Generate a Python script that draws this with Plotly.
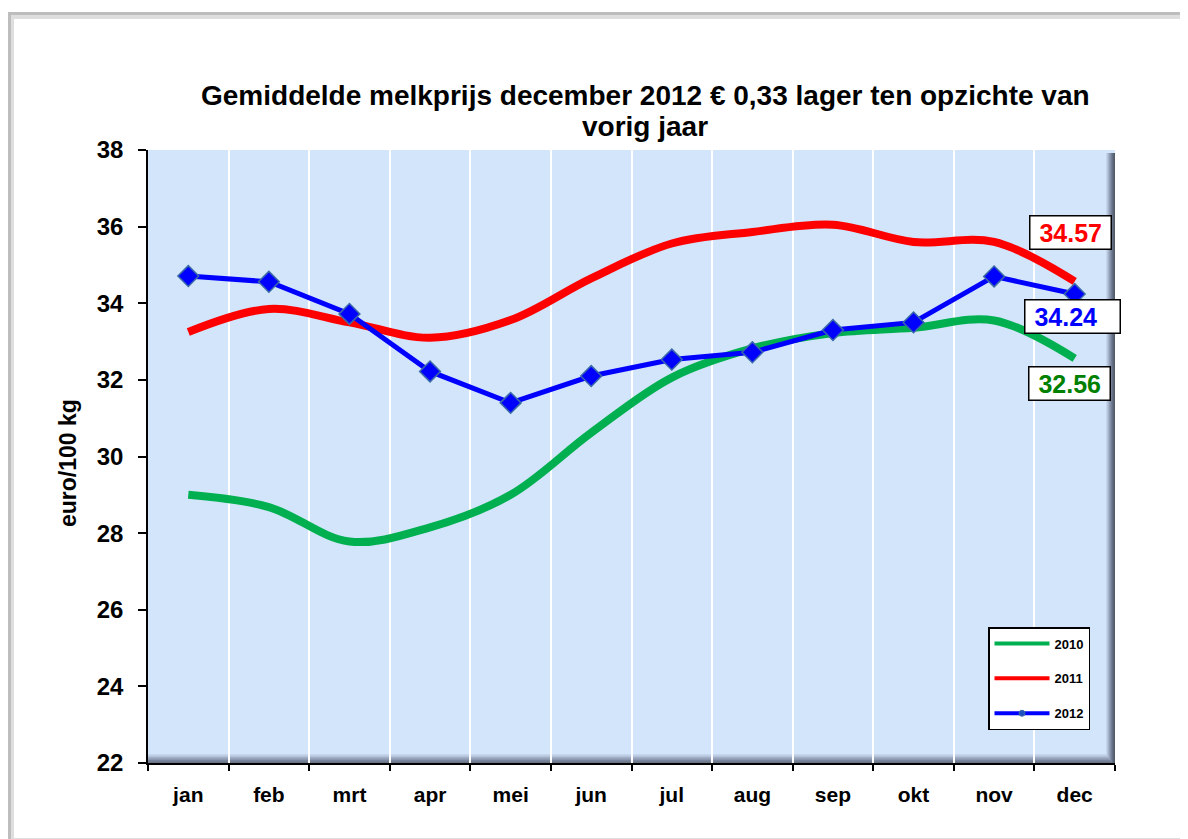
import plotly.graph_objects as go

months = ["jan", "feb", "mrt", "apr", "mei", "jun", "jul", "aug", "sep", "okt", "nov", "dec"]
y2010 = [29.0, 28.68, 27.78, 28.15, 29.0, 30.62, 32.06, 32.82, 33.22, 33.36, 33.55, 32.56]
y2011 = [33.25, 33.85, 33.5, 33.1, 33.56, 34.65, 35.56, 35.86, 36.05, 35.6, 35.6, 34.57]
y2012 = [34.71, 34.56, 33.72, 32.22, 31.4, 32.1, 32.53, 32.72, 33.3, 33.5, 34.7, 34.24]
y_ticks = [22, 24, 26, 28, 30, 32, 34, 36, 38]
title_lines = ["Gemiddelde melkprijs december 2012 € 0,33 lager ten opzichte van", "vorig jaar"]
y_title = "euro/100 kg"

# page body has an 8px margin; target coordinates are page pixels
OFF = 8
W, H = 1188 - OFF, 839 - OFF
L, R, T, B = 148, 1115, 150, 763  # plot area in page pixels


def px(x):
    return (x - L) / (R - L)


def py(y):
    return (B - y) / (B - T)


FONT = "Liberation Sans, Arial, sans-serif"
C10, C11, C12 = "#00b050", "#ff0000", "#0000ff"

fig = go.Figure()
fig.add_trace(go.Scatter(x=months, y=y2010, name="2010", mode="lines", showlegend=False,
                         line=dict(color=C10, width=8, shape="spline", smoothing=1.0)))
fig.add_trace(go.Scatter(x=months, y=y2011, name="2011", mode="lines", showlegend=False,
                         line=dict(color=C11, width=8, shape="spline", smoothing=1.0)))
fig.add_trace(go.Scatter(x=months, y=y2012, name="2012", mode="lines+markers", showlegend=False,
                         line=dict(color=C12, width=5),
                         marker=dict(symbol="diamond", size=16, color=C12,
                                     line=dict(color="#3a6aa8", width=1.5))))
# legend entries (thinner samples, as in the original legend)
fig.add_trace(go.Scatter(x=[None], y=[None], name="2010", mode="lines",
                         line=dict(color=C10, width=4), legendgroup="a"))
fig.add_trace(go.Scatter(x=[None], y=[None], name="2011", mode="lines",
                         line=dict(color=C11, width=4), legendgroup="b"))
fig.add_trace(go.Scatter(x=[None], y=[None], name="2012", mode="lines+markers",
                         line=dict(color=C12, width=4),
                         marker=dict(symbol="circle", size=6, color="#2050c0",
                                     line=dict(color="#3a6aa8", width=1)),
                         legendgroup="c"))

shapes = []
# outer frame with shadow
shapes.append(dict(type="rect", xref="paper", yref="paper", layer="below",
                   x0=px(8), x1=px(1186), y0=py(845), y1=py(12),
                   fillcolor="#bdbdbd", line=dict(width=0)))
shapes.append(dict(type="rect", xref="paper", yref="paper", layer="below",
                   x0=px(11), x1=px(1184), y0=py(842), y1=py(15),
                   fillcolor="#dedede", line=dict(width=0)))
shapes.append(dict(type="rect", xref="paper", yref="paper", layer="below",
                   x0=px(14), x1=px(1182), y0=py(838), y1=py(19),
                   fillcolor="#ffffff", line=dict(width=0)))
# plot area background
shapes.append(dict(type="rect", xref="paper", yref="paper", layer="below",
                   x0=0, x1=1, y0=0, y1=1, fillcolor="#d2e5fb", line=dict(width=0)))
# bevel right edge
right_cols = ["#c6d6ec", "#b4c3da", "#a0aec6", "#8c98b0", "#7a859c", "#6a7488", "#5c6576", "#545c6b"]
for i, c in enumerate(right_cols):
    shapes.append(dict(type="rect", xref="paper", yref="paper", layer="below",
                       x0=px(R - 9 + i * 9 / len(right_cols)), x1=1,
                       y0=0, y1=py(T + 3), fillcolor=c, line=dict(width=0)))
bottom_cols = ["#c6d6ec", "#b4c3da", "#a0aec6", "#8c98b0", "#7a859c", "#6a7488"]
for i, c in enumerate(bottom_cols):
    shapes.append(dict(type="rect", xref="paper", yref="paper", layer="below",
                       x0=0, x1=px(R - 9 + i * 1.0),
                       y0=0, y1=py(B - 9 + i * 9 / len(bottom_cols)), fillcolor=c, line=dict(width=0)))

LAB = 25
annotations = [
    dict(x="dec", y=y2011[-1], xref="x", yref="y", text="<b> %.2f </b>" % y2011[-1],
         showarrow=False, xshift=-4, yshift=49, font=dict(size=LAB, color=C11, family=FONT),
         bgcolor="#ffffff", bordercolor="#000000", borderwidth=1.5, borderpad=2),
    dict(x="dec", y=y2012[-1], xref="x", yref="y", text="<b> %.2f   </b>" % y2012[-1],
         showarrow=False, xshift=-2, yshift=-22, font=dict(size=LAB, color=C12, family=FONT),
         bgcolor="#ffffff", bordercolor="#000000", borderwidth=1.5, borderpad=2),
    dict(x="dec", y=y2010[-1], xref="x", yref="y", text="<b> %.2f </b>" % y2010[-1],
         showarrow=False, xshift=-5, yshift=-25, font=dict(size=LAB, color="#008000", family=FONT),
         bgcolor="#ffffff", bordercolor="#000000", borderwidth=1.5, borderpad=2),
    # title, two lines
    dict(x=px(645), y=py(95), xref="paper", yref="paper", text="<b>%s</b>" % title_lines[0],
         showarrow=False, xanchor="center", yanchor="middle",
         font=dict(size=28, family=FONT, color="#000000")),
    dict(x=px(645), y=py(126), xref="paper", yref="paper", text="<b>%s</b>" % title_lines[1],
         showarrow=False, xanchor="center", yanchor="middle",
         font=dict(size=28, family=FONT, color="#000000")),
    # y axis title
    dict(x=px(68), y=py(463), xref="paper", yref="paper", text="<b>%s</b>" % y_title,
         showarrow=False, xanchor="center", yanchor="middle", textangle=-90,
         font=dict(size=23, family=FONT, color="#000000")),
]

fig.update_layout(
    width=W, height=H,
    margin=dict(l=L - OFF, r=1188 - R, t=T - OFF, b=839 - B),
    paper_bgcolor="#ffffff",
    plot_bgcolor="rgba(0,0,0,0)",
    font=dict(family=FONT, color="#000000"),
    shapes=shapes,
    annotations=annotations,
    showlegend=True,
    legend=dict(x=px(988), y=py(627), xanchor="left", yanchor="top",
                bgcolor="#ffffff", bordercolor="#000000", borderwidth=1.5,
                font=dict(size=13, family=FONT, color="#000000", weight="bold"),
                tracegroupgap=15, itemwidth=55),
    xaxis=dict(type="category", categoryorder="array", categoryarray=months,
               range=[-0.5, 11.5], tickson="boundaries",
               showgrid=True, gridcolor="#ffffff", gridwidth=1.5,
               showline=True, linecolor="#000000", linewidth=1.5,
               ticks="outside", ticklen=6, tickcolor="#000000", tickwidth=1.5,
               ticklabelstandoff=12,
               tickfont=dict(size=21, family=FONT, color="#000000", weight="bold"),
               zeroline=False),
    yaxis=dict(range=[22, 38], tickvals=y_ticks, showgrid=False,
               showline=True, linecolor="#000000", linewidth=1.5,
               ticks="outside", ticklen=8, tickcolor="#000000", tickwidth=1.5,
               ticklabelstandoff=10,
               tickfont=dict(size=24, family=FONT, color="#000000", weight="bold"),
               zeroline=False),
)

fig.write_html("out.html")
